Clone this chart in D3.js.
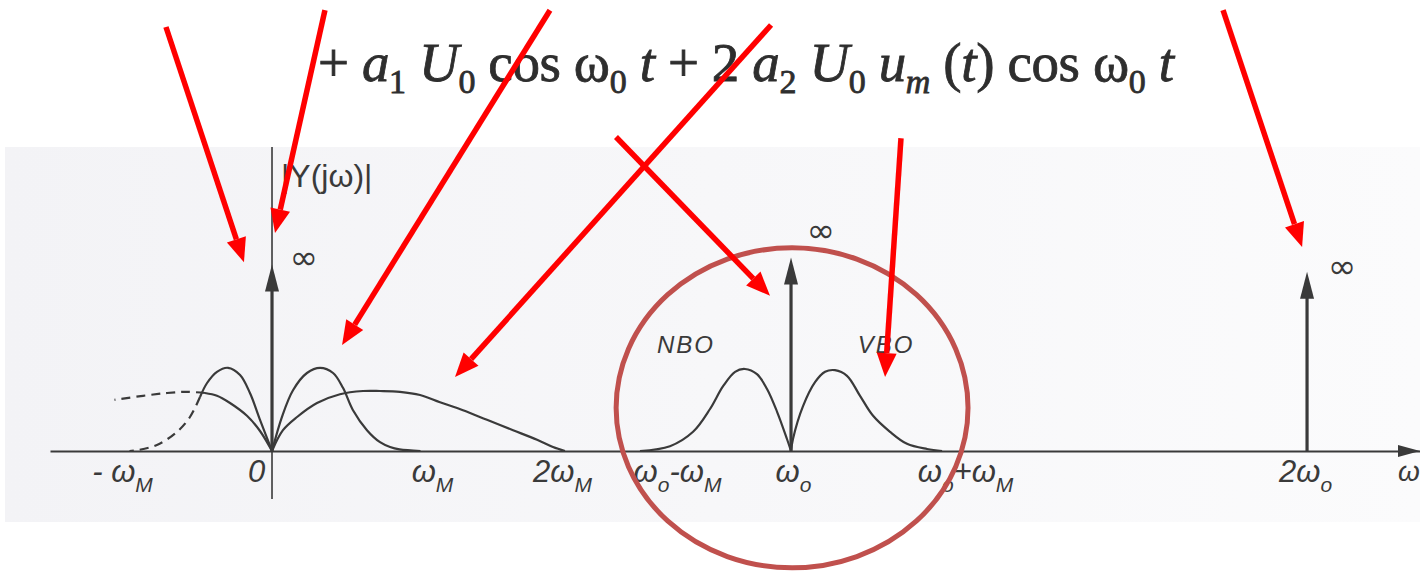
<!DOCTYPE html>
<html>
<head>
<meta charset="utf-8">
<script src="https://cdn.jsdelivr.net/npm/d3@7"></script>
<style>
  html, body { margin: 0; padding: 0; background: #fff; }
  svg { display: block; }
</style>
</head>
<body>
<svg id="chart"></svg>
<script>
// frequencies in units of omega_M, heights relative to the sideband peak
const tickValues = [-1, 0, 1, 2, 2.46, 3.46, 4.46, 6.9];
const tickLabels = ["- ω_M", "0", "ω_M", "2ω_M", "ω_o-ω_M", "ω_o", "ω_o+ω_M", "2ω_o"];

const impulseFreqs = [0, 3.46, 6.9];
const impulseHeights = [2.33, 2.42, 2.24];
const impulseLabels = ["∞", "∞", "∞"];

const narrowRight = [[0,0],[0.067,0.43],[0.14,0.76],[0.233,0.975],[0.32,1.04],[0.407,0.975],[0.473,0.79],[0.54,0.51],[0.633,0.26],[0.72,0.11],[0.787,0.05],[0.85,0.02],[0.99,0]];
const narrowLeft = [[0,0],[-0.08,0.39],[-0.147,0.725],[-0.213,0.95],[-0.293,1.04],[-0.367,0.99],[-0.433,0.85],[-0.48,0.675]];
const narrowLeftDashed = [[-0.48,0.675],[-0.547,0.425],[-0.633,0.24],[-0.767,0.075],[-0.9,0.01],[-0.95,0]];
const broadRight = [[0,0],[0.073,0.26],[0.167,0.425],[0.3,0.6],[0.453,0.71],[0.607,0.75],[0.72,0.75],[0.853,0.74],[0.987,0.7],[1.12,0.61],[1.273,0.51],[1.433,0.39],[1.607,0.26],[1.767,0.14],[1.873,0.05],[1.953,0]];
const broadLeft = [[0,0],[-0.08,0.25],[-0.167,0.44],[-0.28,0.6],[-0.367,0.69],[-0.447,0.725]];
const broadLeftDashed = [[-0.447,0.725],[-0.567,0.74],[-0.7,0.725],[-0.86,0.69],[-1.05,0.64]];
const lowerSideband = [[2.453,0],[2.653,0.06],[2.807,0.24],[2.92,0.525],[3.007,0.81],[3.087,0.99],[3.153,1.025],[3.233,0.96],[3.3,0.775],[3.367,0.49],[3.433,0.15],[3.46,0]];
const upperSideband = [[3.46,0],[3.473,0.15],[3.54,0.56],[3.62,0.86],[3.687,0.99],[3.753,1.01],[3.833,0.94],[3.92,0.69],[4.007,0.44],[4.12,0.24],[4.233,0.09],[4.367,0.025],[4.467,0]];

const bandLabels = ["NBO", "VBO"];
const bandLabelPos = [[2.76, 1.225], [4.093, 1.225]];

// red annotation arrows, [from, to] in chart units
const annotArrows = [
  [[-0.707, 5.3], [-0.187, 2.36]],
  [[0.353, 5.51], [0.02, 2.725]],
  [[1.853, 5.51], [0.467, 1.325]],
  [[3.327, 5.325], [1.22, 0.925]],
  [[2.293, 3.925], [3.32, 1.94]],
  [[4.193, 3.91], [4.087, 0.925]],
  [[6.34, 5.51], [6.867, 2.55]]
];
const circleCenter = [3.467, 0.54];
const circleRadii = [1.173, 2.0];

const formula = [
  ["+ ", ""], ["a", "i"], ["1", "s"], [" ", ""], ["U", "i"], ["0", "s"], [" cos ω", ""], ["0", "s"], [" ", ""], ["t", "i"],
  [" + 2 ", ""], ["a", "i"], ["2", "s"], [" ", ""], ["U", "i"], ["0", "s"], [" ", ""], ["u", "i"], ["m", "si"],
  [" (", ""], ["t", "i"], [") cos ω", ""], ["0", "s"], [" ", ""], ["t", "i"]
];

const W = 1420, H = 573;
const ink = "#3a3a3a";

const svg = d3.select("#chart").attr("width", W).attr("height", H);

const defs = svg.append("defs");
const grad = defs.append("linearGradient").attr("id", "paper");
grad.append("stop").attr("offset", "0%").attr("stop-color", "#f3f3f6");
grad.append("stop").attr("offset", "100%").attr("stop-color", "#fbfbfc");

svg.append("rect").attr("width", W).attr("height", H).attr("fill", "#fff");
svg.append("rect").attr("x", 5).attr("y", 147).attr("width", W - 5).attr("height", 375).attr("fill", "url(#paper)");

const x = d3.scaleLinear().domain([-1.48, 7.653]).range([50, 1420]);
const y = d3.scaleLinear().domain([0, 1]).range([451, 371]);

// formula
const ft = svg.append("text")
  .attr("x", 318).attr("y", 81)
  .attr("font-family", "'Liberation Serif', 'DejaVu Serif', serif")
  .attr("font-size", 55)
  .attr("fill", "#2e2e2e")
  .attr("stroke", "#2e2e2e").attr("stroke-width", 0.8)
  .attr("textLength", 856)
  .attr("lengthAdjust", "spacing")
  .style("white-space", "pre");
let sub = false;
formula.forEach(([s, k]) => {
  const t = ft.append("tspan").text(s);
  const isSub = k.startsWith("s");
  if (k.includes("i")) t.attr("font-style", "italic");
  if (isSub) t.attr("font-size", 34);
  if (isSub && !sub) t.attr("dy", 12);
  if (!isSub && sub) t.attr("dy", -12);
  sub = isSub;
});

// x axis
const xAxis = svg.append("g")
  .attr("transform", `translate(0,${y(0)})`)
  .call(d3.axisBottom(x).tickValues(tickValues).tickSize(0).tickFormat(""));
xAxis.select(".domain").attr("stroke", ink).attr("stroke-width", 2);

const labelShift = [0, -16, 10, -10, 36, 2, 24, -2];
xAxis.selectAll(".tick text")
  .attr("y", 31).attr("dy", 0)
  .attr("dx", (d, i) => labelShift[i])
  .attr("font-family", "'Liberation Sans', 'DejaVu Sans', sans-serif")
  .attr("font-style", "italic")
  .attr("font-size", 31)
  .attr("fill", ink)
  .each(function(d, i) {
    const el = d3.select(this);
    tickLabels[i].split(/(_.)/).filter(s => s).forEach(part => {
      if (part.startsWith("_")) {
        el.append("tspan").text(part[1]).attr("font-size", 21).attr("dy", 10);
      } else {
        const t = el.append("tspan").text(part);
        if (el.selectAll("tspan").size() > 1) t.attr("dy", -10);
      }
    });
  });

svg.append("path")
  .attr("d", `M${x.range()[1]},${y(0)} l-22,-6 l0,12 z`)
  .attr("fill", ink);

svg.append("text")
  .attr("x", x.range()[1] - 22).attr("y", y(0) + 30)
  .attr("font-family", "'Liberation Sans', sans-serif")
  .attr("font-style", "italic").attr("font-size", 28).attr("fill", ink)
  .text("ω");

// y axis
svg.append("line")
  .attr("x1", x(0)).attr("x2", x(0))
  .attr("y1", y(-0.6)).attr("y2", y(3.8))
  .attr("stroke", ink).attr("stroke-width", 1.6);

svg.append("text")
  .attr("x", x(0) + 9).attr("y", y(3.3))
  .attr("font-family", "'Liberation Sans', sans-serif")
  .attr("font-size", 32).attr("fill", ink)
  .text("|Y(jω)|");

// curves
const line = d3.line().x(d => x(d[0])).y(d => y(d[1])).curve(d3.curveCatmullRom.alpha(0.5));
[narrowRight, narrowLeft, broadRight, broadLeft, lowerSideband, upperSideband].forEach(s => {
  svg.append("path").attr("d", line(s)).attr("fill", "none").attr("stroke", ink).attr("stroke-width", 2.2);
});
[narrowLeftDashed, broadLeftDashed].forEach(s => {
  svg.append("path").attr("d", line(s)).attr("fill", "none").attr("stroke", ink)
    .attr("stroke-width", 2.2).attr("stroke-dasharray", "9,6");
});

// impulses
impulseFreqs.forEach((f, i) => {
  const top = y(impulseHeights[i]);
  svg.append("line")
    .attr("x1", x(f)).attr("x2", x(f))
    .attr("y1", y(0)).attr("y2", top + 20)
    .attr("stroke", ink).attr("stroke-width", 3.2);
  svg.append("path")
    .attr("d", `M${x(f)},${top} l-7,27 l14,0 z`)
    .attr("fill", ink);
});
const infShift = [[32, 4], [30, -15], [35, 6]];
svg.selectAll(".inf")
  .data(impulseLabels)
  .enter().append("text")
  .attr("class", "inf")
  .attr("x", (d, i) => x(impulseFreqs[i]) + infShift[i][0])
  .attr("y", (d, i) => y(impulseHeights[i]) + infShift[i][1])
  .attr("text-anchor", "middle")
  .attr("font-family", "'DejaVu Sans', sans-serif")
  .attr("font-size", 34).attr("fill", ink)
  .text(d => d);

svg.selectAll(".band")
  .data(bandLabels)
  .enter().append("text")
  .attr("class", "band")
  .attr("x", (d, i) => x(bandLabelPos[i][0]))
  .attr("y", (d, i) => y(bandLabelPos[i][1]))
  .attr("text-anchor", "middle")
  .attr("font-family", "'Liberation Sans', sans-serif")
  .attr("font-style", "italic").attr("font-size", 24)
  .attr("letter-spacing", 2).attr("fill", ink)
  .text(d => d);

// annotations
svg.append("ellipse")
  .attr("cx", x(circleCenter[0])).attr("cy", y(circleCenter[1]))
  .attr("rx", x(circleCenter[0] + circleRadii[0]) - x(circleCenter[0]))
  .attr("ry", y(0) - y(circleRadii[1]))
  .attr("fill", "none").attr("stroke", "#c0504d").attr("stroke-width", 5);

annotArrows.forEach(([a, b]) => {
  const x1 = x(a[0]), y1 = y(a[1]), x2 = x(b[0]), y2 = y(b[1]);
  const ang = Math.atan2(y2 - y1, x2 - x1);
  const len = 24, hw = 10;
  const bx = x2 - len * Math.cos(ang), by = y2 - len * Math.sin(ang);
  svg.append("line")
    .attr("x1", x1).attr("y1", y1).attr("x2", bx).attr("y2", by)
    .attr("stroke", "#ff0000").attr("stroke-width", 5.5);
  svg.append("path")
    .attr("d", `M${x2},${y2} L${bx + hw * Math.sin(ang)},${by - hw * Math.cos(ang)} L${bx - hw * Math.sin(ang)},${by + hw * Math.cos(ang)} Z`)
    .attr("fill", "#ff0000");
});
</script>
</body>
</html>
